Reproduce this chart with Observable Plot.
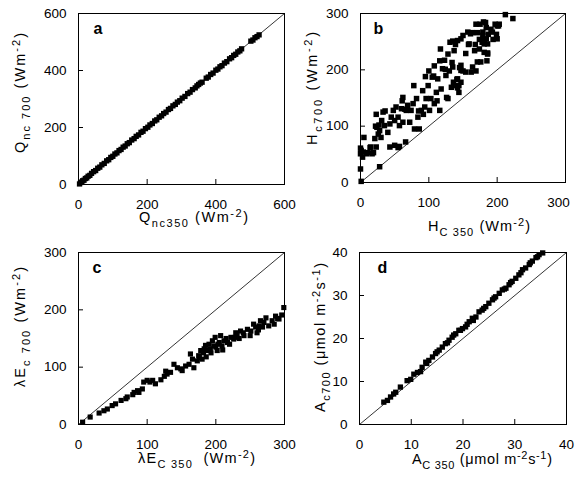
<!DOCTYPE html>
<html><head><meta charset="utf-8">
<script src="https://cdn.jsdelivr.net/npm/d3@7"></script>
<script src="https://cdn.jsdelivr.net/npm/@observablehq/plot@0.6"></script>
<style>
body{margin:0;background:#fff;}
#wrap{position:relative;width:575px;height:478px;overflow:hidden;background:#fff;}
#wrap svg{position:absolute;left:0;top:0;}
</style></head><body><div id="wrap"></div>
<script>
// ---------- Panel a: Qnc ----------
const qnc350 = [3,6,9,12,16,20,24,28,33,38,44,50,56,62,68,75,82,88,94,100,106,112,118,124,130,136,142,148,155,162,168,175,182,188,195,202,208,215,222,228,235,242,248,255,262,268,275,282,288,295,302,310,318,325,332,340,345,350,355,360,372,378,385,392,400,406,412,418,425,432,440,446,452,458,464,470,475,502,508,514,520,526];
const qnc700 = [2,7,8,13,15,21,23,29,32,39,45,49,57,61,69,74,83,87,95,99,107,111,119,123,131,135,143,147,156,161,169,174,183,187,196,201,209,214,223,227,236,241,249,254,263,267,276,281,289,294,303,309,319,324,333,339,346,351,356,359,373,377,386,391,401,405,413,417,426,431,441,445,453,457,465,469,476,503,507,515,519,525];
// ---------- Panel b: Hc ----------
const hc350 = [1,0,3,0,4,1,0,5,9,11,14,17,19,15,23,21,22,26,24,27,28,30,31,23,33,35,36,28,
43,50,55,57,66,
40,43,45,48,50,52,55,57,60,61,62,62,65,67,69,72,74,77,78,79,82,84,85,86,89,91,92,94,95,96,99,100,101,103,105,107,108,108,111,112,113,116,116,117,118,120,123,124,125,126,128,128,130,131,133,134,135,135,136,137,139,140,
141,142,142,144,144,145,147,147,147,150,154,154,162,164,169,171,176,167,174,186,181,185,186,142,147,150,157,161,159,158,164,168,171,174,178,179,179,181,181,184,186,187,193,191,194,199,200,169,175,180,183,184,197,200,203,202,212,223];
const hc700 = [2,24,45,51,54,57,61,80,51,53,62,51,53,63,63,78,100,86,98,102,92,80,110,121,125,101,127,28,
63,66,62,64,72,
89,104,116,128,110,134,116,101,131,145,107,151,130,128,137,107,128,140,172,95,149,116,127,95,128,163,121,134,188,149,172,198,128,149,187,189,140,207,160,145,184,128,216,237,166,202,217,201,190,151,149,228,198,249,169,213,205,251,178,234,245,172,
183,184,168,160,172,204,178,199,208,198,196,229,196,205,198,214,214,234,237,230,231,216,228,252,255,261,267,264,246,245,266,245,266,254,249,261,267,246,252,255,246,263,267,272,254,263,255,281,281,285,284,275,281,278,281,278,298,291];
// ---------- Panel c: lambda Ec ----------
const lec350 = [6,17,30,37,42,49,54,62,69,71,79,81,86,88,93,95,100,104,108,112,120,125,127,129,134,139,144,149,151,156,161,163,166,168,173,176,178,180,183,185,188,190,192,195,197,199,202,205,207,209,212,217,222,226,229,231,236,241,246,251,255,260,263,265,270,273,277,282,287,292,296,299,
175,182,186,193,200,203,210,215,220,228,234,240,250,258,262,268,285,290];
const lec700 = [4,13,20,24,27,33,36,42,45,48,52,56,59,56,62,74,77,74,77,71,78,84,93,88,91,105,99,97,94,102,105,123,114,99,111,117,129,114,132,138,129,140,132,146,137,152,129,143,155,137,146,143,152,149,160,155,163,155,166,163,175,160,172,181,178,186,172,181,189,184,191,204,
120,125,118,125,135,140,130,150,140,152,150,160,155,170,165,170,175,185];
// ---------- Panel d: Ac ----------
const ac350 = [4.7,5.4,6.0,6.6,7.0,7.9,9.2,9.9,10.5,11.2,11.8,12.1,12.8,13.4,14.1,14.7,15.4,16.0,16.6,17.3,17.9,18.6,19.2,19.9,20.5,21.2,21.8,22.5,23.1,23.7,24.4,25.0,25.7,26.3,27.0,27.6,28.3,28.9,29.5,30.2,30.8,31.5,32.1,32.8,33.4,34.1,34.7,35.4,
20.8,22.0,24.0,26.0,28.0,29.2,31.2,33.0,34.4,13.0,15.0,17.0,18.2,19.5];
const ac700 = [5.2,5.6,6.4,7.1,7.5,8.7,10.2,10.5,11.7,12.1,12.3,13.3,14.5,14.9,15.7,16.5,17.3,18.0,18.8,19.6,20.3,21.1,21.9,22.3,22.7,23.9,24.7,25.0,26.2,26.6,27.4,28.2,29.0,29.7,30.5,31.3,31.7,32.5,33.3,34.0,34.8,36.0,36.4,37.2,38.0,38.8,39.5,39.9,
23.3,24.2,27.0,29.4,31.5,33.0,35.3,37.6,39.0,14.2,16.9,19.0,20.8,21.9];

// axis domains and tick labels
const domainQ = [0, 600], ticksQ = [0, 200, 400, 600];
const domainH = [0, 300], ticksH = [0, 100, 200, 300];
const domainE = [0, 300], ticksE = [0, 100, 200, 300];
const domainA = [0, 40],  ticksA = [0, 10, 20, 30, 40];
const letters = ["a", "b", "c", "d"];

// axis titles: [text, kind]
const titleAx = [["Q",""],["nc350","sub"],[" (Wm",""],["-2","sup"],[")",""]];
const titleAy = [["Q",""],["nc 700","sub"],[" (Wm",""],["-2","sup"],[")",""]];
const titleBx = [["H",""],["C 350","sub"],[" (Wm",""],["-2","sup"],[")",""]];
const titleBy = [["H",""],["c700","sub"],[" (Wm",""],["-2","sup"],[")",""]];
const titleCx = [["λE",""],["C 350","sub"],["  (Wm",""],["-2","sup"],[")",""]];
const titleCy = [["λE",""],["c 700","sub"],[" (Wm",""],["-2","sup"],[")",""]];
const titleDx = [["A",""],["C 350","sub"],[" (μmol m",""],["-2","sup"],["s",""],["-1","sup"],[")",""]];
const titleDy = [["A",""],["c700","sub"],[" (μmol m",""],["-2","sup"],["s",""],["-1","sup"],[")",""]];

const W = 575, H = 478;
const FONT = "'Liberation Sans', Arial, Helvetica, sans-serif";

function panel(xs, ys, domain, ticks, fr, letter, letterDx, r, lastShift = 0) {
  const data = xs.map((v, i) => ({x: v, y: ys[i]}));
  const diag = domain.map(v => ({x: v, y: v}));
  const lastTick = ticks[ticks.length - 1];
  const xAxes = lastShift
    ? [Plot.axisX({ticks: ticks.slice(0, -1), tickSize: 5, dy: -5, tickPadding: 15, label: null, tickFormat: d => String(d)}),
       Plot.axisX({ticks: [lastTick], tickSize: 0, dx: lastShift, tickPadding: 15, label: null, tickFormat: d => String(d)})]
    : [Plot.axisX({ticks, tickSize: 5, dy: -5, tickPadding: 15, label: null, tickFormat: d => String(d)})];
  return Plot.plot({
    width: W, height: H,
    marginLeft: fr.l, marginRight: W - fr.r, marginTop: fr.t, marginBottom: H - fr.b,
    style: {background: "transparent", fontFamily: FONT, fontSize: "13.5px", color: "black", overflow: "visible"},
    x: {domain, label: null},
    y: {domain, label: null},
    marks: [
      Plot.line(diag, {x: "x", y: "y", stroke: "black", strokeWidth: 0.8}),
      Plot.dot(data, {x: "x", y: "y", symbol: "square", r, fill: "black", stroke: null}),
      Plot.frame({stroke: "black", strokeWidth: 1}),
      ...xAxes,
      Plot.axisY({ticks, tickSize: 5, dx: 5, tickPadding: 12, label: null, tickFormat: d => String(d)}),
      Plot.text([letter], {text: d => d, frameAnchor: "top-left", dx: letterDx, dy: 20, lineAnchor: "bottom", textAnchor: "start", fontSize: 16, fontWeight: "bold"})
    ]
  });
}

function title(svg, parts, x, y, rotate, len) {
  const t = d3.select(svg).append("text")
    .attr("transform", `translate(${x},${y})` + (rotate ? " rotate(-90)" : ""))
    .attr("text-anchor", "start")
    .attr("font-family", FONT).attr("font-size", 14.5).attr("fill", "black");
  if (len) t.attr("textLength", len).attr("lengthAdjust", "spacing");
  let shift = 0;
  for (const [s, kind] of parts) {
    const target = kind === "sub" ? 4.5 : kind === "sup" ? -5.5 : 0;
    t.append("tspan").attr("dy", target - shift).attr("font-size", kind ? 11 : 14.5).text(s);
    shift = target;
  }
}

const wrap = document.getElementById("wrap");
const pa = panel(qnc350, qnc700, domainQ, ticksQ, {l: 78, r: 284, t: 13, b: 184}, letters[0], 15, 3.0);
const pb = panel(hc350, hc700, domainH, ticksH, {l: 360, r: 565, t: 13, b: 182}, letters[1], 13, 3.1, -7);
const pc = panel(lec350, lec700, domainE, ticksE, {l: 78, r: 284, t: 252, b: 424}, letters[2], 14, 2.9);
const pd = panel(ac350, ac700, domainA, ticksA, {l: 359, r: 566, t: 252, b: 424}, letters[3], 18, 3.0);
[pa, pb, pc, pd].forEach(p => wrap.appendChild(p));

title(pa, titleAx, 139, 222, false, 109);
title(pa, titleAy, 25, 153, true, 120);
title(pb, titleBx, 428, 231, false, 102);
title(pb, titleBy, 317, 145, true, 113);
title(pc, titleCx, 138, 463, false, 117);
title(pc, titleCy, 25, 387, true, 120);
title(pd, titleDx, 412, 464, false, 140);
title(pd, titleDy, 325, 412, true, 149);
</script>
</body></html>
